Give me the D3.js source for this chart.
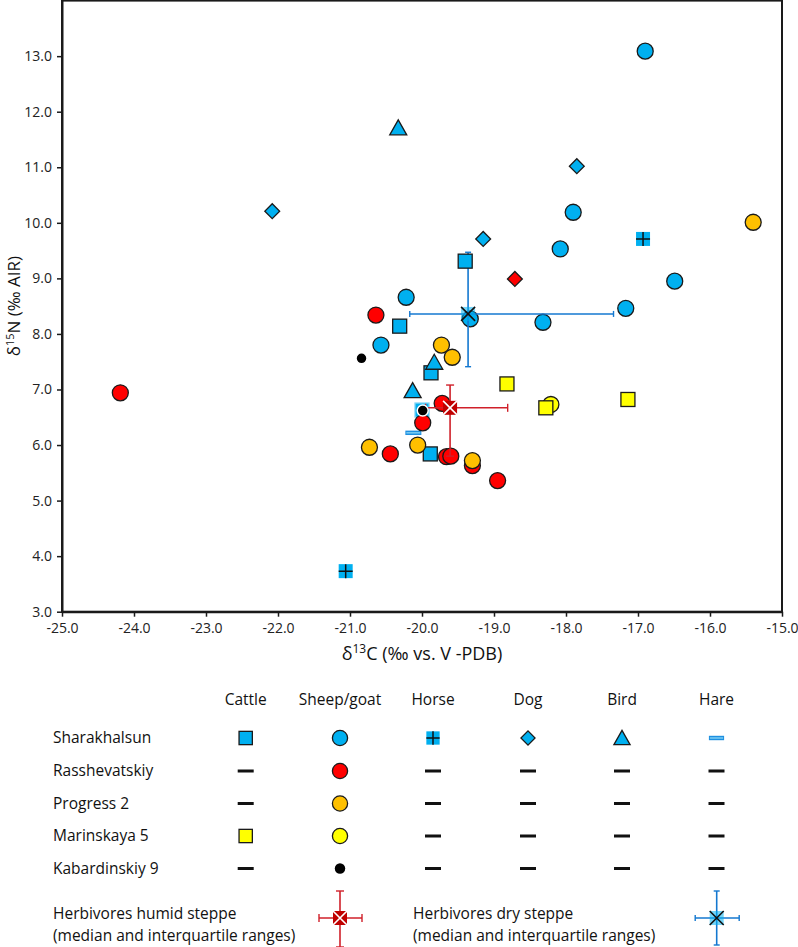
<!DOCTYPE html>
<html><head><meta charset="utf-8">
<script src="https://cdn.jsdelivr.net/npm/d3@7"></script>
<style>
html,body{margin:0;padding:0;background:#fff;}
svg{display:block;font-family:"Open Sans","Noto Sans",sans-serif;}
</style></head>
<body><svg id="chart" width="798" height="947"></svg>
<script>
// ---------- data (δ13C, δ15N) ----------
const xTicks = [-25,-24,-23,-22,-21,-20,-19,-18,-17,-16,-15];
const yTicks = [3,4,5,6,7,8,9,10,11,12,13];

const sharakhalsunCattle = [[-19.40,9.31],[-20.31,8.14],[-19.875,7.30],[-19.885,5.84]];
const sharakhalsunCattleFaint = [[-20.00,6.63]];
const sharakhalsunSheep = [[-16.90,13.09],[-17.90,10.19],[-18.08,9.53],[-16.49,8.95],[-17.17,8.46],[-18.32,8.21],[-20.22,8.66],[-19.33,8.27],[-20.57,7.80]];
const sharakhalsunHorse = [[-16.93,9.71],[-21.06,3.73]];
const sharakhalsunDog = [[-22.08,10.21],[-17.85,11.02],[-19.15,9.71]];
const sharakhalsunBird = [[-20.33,11.71],[-19.83,7.49],[-20.13,6.98]];
const sharakhalsunHare = [[-20.12,6.22]];
const rasshevatskiySheep = [[-24.19,6.94],[-20.64,8.34],[-19.72,6.75],[-19.99,6.40],[-20.44,5.84],[-19.66,5.79],[-19.60,5.80],[-19.30,5.63],[-18.95,5.36]];
const rasshevatskiyDog = [[-18.71,8.99]];
const progressSheep = [[-19.73,7.80],[-19.58,7.58],[-20.73,5.96],[-20.06,6.00],[-19.30,5.72],[-15.40,10.01]];
const marinskayaSheep = [[-18.21,6.73]];
const marinskayaCattle = [[-18.82,7.10],[-18.28,6.67],[-17.14,6.82]];
const kabardinskiySheep = [[-20.84,7.56],[-19.99,6.62]];

// median and interquartile ranges: [medianX, medianY, xLow, xHigh, yLow, yHigh]
const humidSteppe = [-19.61,6.67,-19.95,-18.81,5.80,7.08];
const drySteppe = [-19.36,8.36,-20.17,-17.34,7.41,9.47];

const speciesNames = ["Cattle","Sheep/goat","Horse","Dog","Bird","Hare"];
const siteNames = ["Sharakhalsun","Rasshevatskiy","Progress 2","Marinskaya 5","Kabardinskiy 9"];
const legendMarkers = [
  ["square","circle","horse","diamond","triangle","hare"],
  ["dash","circle","dash","dash","dash","dash"],
  ["dash","circle","dash","dash","dash","dash"],
  ["square","circle","dash","dash","dash","dash"],
  ["dash","dot","dash","dash","dash","dash"]
];
const siteColors = ["#00B0F0","#FF0000","#FFC000","#FFFF00","#000000"];

// ---------- layout ----------
const svg = d3.select("#chart");
const x = d3.scaleLinear().domain([-25,-15]).range([62,782]);
const y = d3.scaleLinear().domain([3,14]).range([611.7,0.6]);
const INK = "#1a1a1a";

// frame
svg.append("rect").attr("x",x(-25)).attr("y",y(14)).attr("width",x(-15)-x(-25)).attr("height",y(3)-y(14))
  .attr("fill","none").attr("stroke",INK).attr("stroke-width",2);

const xAxis = svg.append("g").attr("transform",`translate(0,${y(3)})`)
  .call(d3.axisBottom(x).tickValues(xTicks).tickFormat(d=>d.toFixed(1)).tickSize(5).tickSizeOuter(0).tickPadding(4));
const yAxis = svg.append("g").attr("transform",`translate(${x(-25)},0)`)
  .call(d3.axisLeft(y).tickValues(yTicks).tickFormat(d=>d.toFixed(1)).tickSize(5).tickSizeOuter(0).tickPadding(5));
[xAxis,yAxis].forEach(a=>{
  a.attr("font-size",null).attr("font-family",null);
  a.select(".domain").attr("stroke",INK).attr("stroke-width",2);
  a.selectAll(".tick line").attr("stroke",INK).attr("stroke-width",1.5);
  a.selectAll(".tick text").attr("fill","#222").style("font-size","14px");
});
xAxis.selectAll(".tick text").attr("dy","0.85em");

// axis titles
const xt = svg.append("text").attr("x",(x(-25)+x(-15))/2).attr("y",660).attr("text-anchor","middle")
  .style("font-size","18px").attr("fill","#111");
xt.append("tspan").text("δ");
xt.append("tspan").text("13").attr("dy","-7").style("font-size","12px");
xt.append("tspan").text("C (‰ vs. V -PDB)").attr("dy","7");

const yt = svg.append("text").attr("transform",`translate(20,${(y(3)+y(14))/2}) rotate(-90)`).attr("text-anchor","middle")
  .style("font-size","17px").attr("fill","#111");
yt.append("tspan").text("δ");
yt.append("tspan").text("15").attr("dy","-6").style("font-size","11px");
yt.append("tspan").text("N (‰ AIR)").attr("dy","6");

// ---------- marker drawing ----------
function marker(g, type, cx, cy, fill, opts={}) {
  const s = opts.scale || 1;
  const gg = g.append("g").attr("transform",`translate(${cx},${cy})`);
  if (type==="circle") {
    gg.append("circle").attr("r",8*s).attr("fill",fill).attr("stroke",INK).attr("stroke-width",1.3);
  } else if (type==="dot") {
    gg.append("circle").attr("r",5.5*s).attr("fill","#000").attr("stroke",opts.ring?"#fff":"none").attr("stroke-width",1.5);
  } else if (type==="square") {
    gg.append("rect").attr("x",-7*s).attr("y",-7*s).attr("width",14*s).attr("height",14*s)
      .attr("fill",fill).attr("stroke",opts.faint?"#7fd3f5":INK).attr("stroke-width",1.3);
  } else if (type==="horse") {
    gg.append("rect").attr("x",-7*s).attr("y",-7*s).attr("width",14*s).attr("height",14*s).attr("fill",fill);
    gg.append("path").attr("d",`M${-7*s},0H${7*s}M0,${-7*s}V${7*s}`).attr("stroke","#111").attr("stroke-width",1.5);
  } else if (type==="diamond") {
    gg.append("path").attr("d",d3.symbol(d3.symbolSquare,110*s*s)()).attr("transform","rotate(45)")
      .attr("fill",fill).attr("stroke",INK).attr("stroke-width",1.3);
  } else if (type==="triangle") {
    gg.append("path").attr("d",`M0,${-8*s}L${8.5*s},${7*s}L${-8.5*s},${7*s}Z`)
      .attr("fill",fill).attr("stroke",INK).attr("stroke-width",1.3);
  } else if (type==="hare") {
    gg.append("rect").attr("x",-8*s).attr("y",-2.2).attr("width",16*s).attr("height",4.4).attr("fill","#1e8fe0");
    gg.append("rect").attr("x",-7*s).attr("y",-0.7).attr("width",14*s).attr("height",1.4).attr("fill","#7fd0f5");
  } else if (type==="dash") {
    gg.append("rect").attr("x",-8).attr("y",-1.5).attr("width",16).attr("height",3).attr("fill","#111");
  }
}

function median(g, m, kind, sx, sy) {
  const col = kind==="humid" ? "#d0202a" : "#1478d0";
  const [mx,my,x0,x1,y0,y1] = m;
  const X = sx(mx), Y = sy(my);
  const gl = g.append("g");
  gl.append("line").attr("x1",sx(x0)).attr("x2",sx(x1)).attr("y1",Y).attr("y2",Y).attr("stroke",col).attr("stroke-width",1.6);
  gl.append("line").attr("x1",X).attr("x2",X).attr("y1",sy(y0)).attr("y2",sy(y1)).attr("stroke",col).attr("stroke-width",1.6);
  const c = kind==="humid" ? 4 : 3;
  [x0,x1].forEach(v=>gl.append("line").attr("x1",sx(v)).attr("x2",sx(v)).attr("y1",Y-c).attr("y2",Y+c).attr("stroke",col).attr("stroke-width",1.4));
  [y0,y1].forEach(v=>gl.append("line").attr("x1",X-c).attr("x2",X+c).attr("y1",sy(v)).attr("y2",sy(v)).attr("stroke",col).attr("stroke-width",1.4));
  const h = 7;
  if (kind==="humid") {
    gl.append("rect").attr("x",X-h).attr("y",Y-h).attr("width",2*h).attr("height",2*h).attr("fill","#c00000");
    gl.append("path").attr("d",`M${X-h},${Y-h}L${X+h},${Y+h}M${X+h},${Y-h}L${X-h},${Y+h}`).attr("stroke","#fff").attr("stroke-width",1.6);
  } else {
    gl.append("rect").attr("x",X-h).attr("y",Y-h).attr("width",2*h).attr("height",2*h).attr("fill","#00B0F0").attr("opacity",0.55);
    gl.append("path").attr("d",`M${X-h},${Y-h}L${X+h},${Y+h}M${X+h},${Y-h}L${X-h},${Y+h}`).attr("stroke","#111").attr("stroke-width",1.6);
  }
}

// ---------- plot marks ----------
const plot = svg.append("g");
const drawSeries = (arr, type, fill, opts) => arr.forEach(d=>marker(plot,type,x(d[0]),y(d[1]),fill,opts));

drawSeries(sharakhalsunSheep,"circle",siteColors[0]);
median(plot, drySteppe, "dry", x, y);
drawSeries(sharakhalsunCattle,"square",siteColors[0]);
drawSeries(sharakhalsunCattleFaint,"square",siteColors[0],{faint:true});
drawSeries(sharakhalsunHorse,"horse",siteColors[0]);
drawSeries(sharakhalsunDog,"diamond",siteColors[0]);
drawSeries(sharakhalsunBird,"triangle",siteColors[0]);
drawSeries(sharakhalsunHare,"hare",siteColors[0]);
drawSeries(rasshevatskiySheep,"circle",siteColors[1]);
drawSeries(rasshevatskiyDog,"diamond",siteColors[1]);
drawSeries(progressSheep,"circle",siteColors[2]);
drawSeries(marinskayaSheep,"circle",siteColors[3]);
drawSeries(marinskayaCattle,"square",siteColors[3]);
median(plot, humidSteppe, "humid", x, y);
drawSeries(kabardinskiySheep,"dot",siteColors[4],{ring:true});

// ---------- legend ----------
const colX = [245.7,340,433,528,622,716.5];
const rowY = [738,771,803.5,836,868.5];
const lg = svg.append("g").style("font-size","15.5px").attr("fill","#111");
speciesNames.forEach((n,i)=>lg.append("text").attr("x",colX[i]).attr("y",700).attr("dy","0.35em").attr("text-anchor","middle").text(n));
siteNames.forEach((n,r)=>{
  lg.append("text").attr("x",53).attr("y",rowY[r]).attr("dy","0.35em").text(n);
  legendMarkers[r].forEach((t,c)=>marker(lg,t,colX[c],rowY[r],siteColors[r],{scale:0.95}));
});
lg.append("text").attr("x",53).attr("y",914).attr("dy","0.35em").text("Herbivores humid steppe");
lg.append("text").attr("x",53).attr("y",935.5).attr("dy","0.35em").text("(median and interquartile ranges)");
lg.append("text").attr("x",413).attr("y",914).attr("dy","0.35em").text("Herbivores dry steppe");
lg.append("text").attr("x",413).attr("y",935.5).attr("dy","0.35em").text("(median and interquartile ranges)");
// legend median glyphs (pixel offsets around the glyph centre)
median(lg,[0,0,-21,22,-27,29],"humid",v=>340+v,v=>918+v);
median(lg,[0,0,-21.5,22.5,-27,27],"dry",v=>716.7+v,v=>918+v);
</script></body></html>
